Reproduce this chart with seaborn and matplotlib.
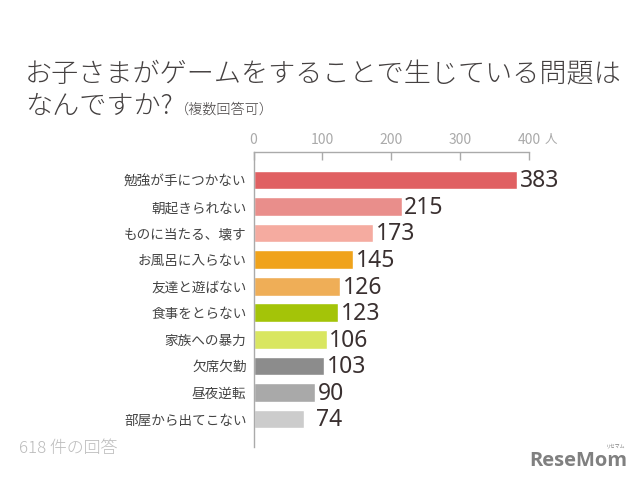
import matplotlib
matplotlib.use("Agg")
import matplotlib.pyplot as plt
import seaborn as sns
import pandas as pd

# Data
categories = ["勉強が手につかない", "朝起きられない", "ものに当たる、壊す", "お風呂に入らない", "友達と遊ばない",
              "食事をとらない", "家族への暴力", "欠席欠勤", "昼夜逆転", "部屋から出てこない"]
values = [383, 215, 173, 145, 126, 123, 106, 103, 90, 74]
bar_colors = ["#E06062", "#E98E8B", "#F5ABA0", "#F0A31B", "#EFAE57",
              "#A4C408", "#D9E660", "#8C8C8C", "#A9A9A9", "#CCCCCC"]
x_ticks = [0, 100, 200, 300, 400]

sns.set_theme(style="white")
plt.rcParams["font.family"] = ["Noto Sans CJK JP", "DejaVu Sans"]

df = pd.DataFrame({"item": categories, "count": values})

fig = plt.figure(figsize=(6.4, 4.8), dpi=100)
ax = fig.add_axes([253.5 / 640, 1 - 447 / 480, 275.5 / 640, 295.3 / 480])

sns.barplot(data=df, x="count", y="item", hue="item", palette=bar_colors,
            width=0.7, saturation=1, legend=False, ax=ax)

ax.set_xlim(0, 400)
ax.set_ylim(10.06, -1.07)
ax.set_xlabel("")
ax.set_ylabel("")

# Axis on top with ticks pointing into the plot
ax.xaxis.tick_top()
ax.set_xticks(x_ticks)
ax.tick_params(axis="x", direction="in", length=5.5, width=1, color="#AAAAAA",
               labelcolor="#AAAAAA", labelsize=10, pad=3.5)
ax.tick_params(axis="y", length=0, labelcolor="#444444", labelsize=9.8, pad=5)

for side in ["right", "bottom"]:
    ax.spines[side].set_visible(False)
for side in ["top", "left"]:
    ax.spines[side].set_color("#AAAAAA")
    ax.spines[side].set_linewidth(1)

# Value labels
for i, v in enumerate(values):
    gap = 8 if v < 80 else 2
    ax.annotate(str(v), (v, i), xytext=(gap, 1.2), textcoords="offset points",
                va="center_baseline", ha="left", fontsize=16.5, color="#3A3030",
                family=["Noto Sans", "DejaVu Sans"])

# Title and notes
fig.text(25 / 640, 1 - 82 / 480, "お子さまがゲームをすることで生じている問題は",
         fontsize=19.5, fontweight="light", color="#444040", va="baseline", ha="left")
fig.text(25 / 640, 1 - 114 / 480, "なんですか?", fontsize=19.5, fontweight="light",
         color="#444040", va="baseline", ha="left")
fig.text(175 / 640, 1 - 110 / 480, "（複数回答可）", fontsize=10.2, fontweight="light",
         color="#444040", va="center", ha="left")
fig.text(545 / 640, 1 - 139.5 / 480, "人", fontsize=9, color="#AAAAAA", va="center", ha="left")
fig.text(19 / 640, 1 - 449 / 480, "618 件の回答", fontsize=12.2, fontweight="light",
         color="#BBBBBB", va="center", ha="left")

# Site logo
fig.text(529 / 640, 1 - 466 / 480, "ReseMom", fontsize=14.5, fontweight="bold", color="#808080",
         va="baseline", ha="left", family=["Open Sans", "DejaVu Sans"])
fig.text(616 / 640, 1 - 446 / 480, "リセマム", fontsize=3.5, color="#808080", va="center", ha="center")

fig.savefig("out.png", dpi=100, facecolor="white")
